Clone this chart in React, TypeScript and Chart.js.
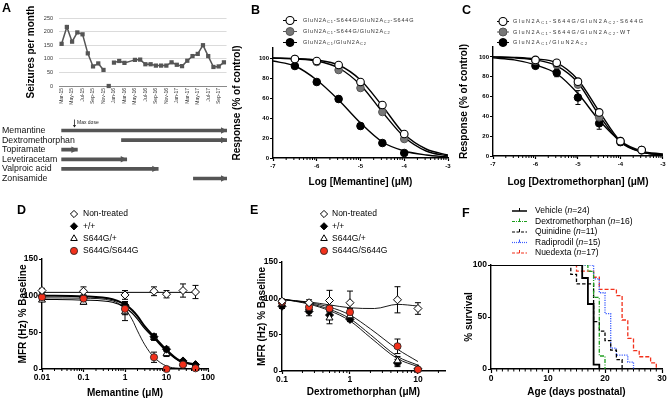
import React, { useEffect, useRef } from 'react';
import { Chart, registerables } from 'chart.js';
import { drawPoint } from 'chart.js/helpers';

Chart.register(...registerables);
const FONT = '"Liberation Sans", Arial, Helvetica, sans-serif';
Chart.defaults.font.family = FONT;
Chart.defaults.color = '#000';

// ---------------- Panel A data ----------------
const months = ['Mar-15', 'Apr-15', 'May-15', 'Jun-15', 'Jul-15', 'Aug-15', 'Sep-15', 'Oct-15', 'Nov-15', 'Dec-15',
  'Jan-16', 'Feb-16', 'Mar-16', 'Apr-16', 'May-16', 'Jun-16', 'Jul-16', 'Aug-16', 'Sep-16', 'Oct-16', 'Nov-16', 'Dec-16',
  'Jan-17', 'Feb-17', 'Mar-17', 'Apr-17', 'May-17', 'Jun-17', 'Jul-17', 'Aug-17', 'Sep-17', 'Oct-17'];
const seizures = [155, 217, 163, 197, 190, 120, 72, 83, 59, 0, 86, 92, 85, null, 96, 97, 80, 80, 75, 75, 75, 87,
  78, 73, 93, 110, 118, 150, 110, 70, 72, 87];
const seizureTicks = [0, 50, 100, 150, 200, 250];
const isolatedMonth = 'Dec-15';
const drugs = ['Memantine', 'Dextromethorphan', 'Topiramate', 'Levetiracetam', 'Valproic acid', 'Zonisamide'];
const drugStart = [0, 11.4, 0, 0, 0, 25.1];
const drugEnd = [31.5, 31.5, 3.0, 12.4, 18.4, 31.5];
const maxDoseMonth = 2.45;

// ---------------- Panel B data ----------------
const bLogConc = [-6.5, -6, -5.5, -5, -4.5, -4];
const bHomo = [99, 97, 93, 76, 53, 24];
const bHet = [99, 96, 88, 70, 46, 19];
const bWt = [92, 76, 59, 32, 15, 5];
const bWtErr = [2, 2, 3, 3, 2, 1];
const bFitX = [-7, -6.5, -6, -5.5, -5, -4.5, -4, -3.5, -3];
const bHomoFit = [100, 99.5, 98, 93, 78, 52, 24, 9, 3];
const bHetFit = [100, 99, 97, 90, 73, 46, 21, 7, 2];
const bWtFit = [97, 92, 78, 58, 35, 16, 7, 3, 1];
const logXTicks = [-7, -6, -5, -4, -3];
const respTicks = [0, 20, 40, 60, 80, 100];

// ---------------- Panel C data ----------------
const cLogConc = [-6, -5.5, -5, -4.5, -4, -3.5];
const cHomo = [97, 94, 75, 44, 15, 6];
const cHet = [96, 92, 72, 39, 15, 6];
const cWt = [91, 84, 59, 33, 14, 6];
const cHomoErr = [1, 1, 2, 2, 2, 1];
const cHetErr = [1, 1, 2, 3, 2, 1];
const cWtErr = [2, 4, 7, 6, 3, 1];
const cFitX = [-7, -6.5, -6, -5.5, -5, -4.5, -4, -3.5, -3];
const cHomoFit = [100, 99.5, 98, 94, 77, 45, 15, 4, 1];
const cHetFit = [100, 99, 97, 91, 74, 41, 14, 4, 1];
const cWtFit = [99, 97, 92, 83, 63, 36, 15, 5, 2];

// ---------------- Panel D data ----------------
const dConc = [0.01, 0.1, 1, 5, 10, 25, 50];
const dNon = [107, 106, 101, 106, 102, 107, 105];
const dNonErr = [3, 6, 6, 6, 5, 9, 9];
const dWt = [100, 98, 87, 44, 27, 11, 6];
const dWtErr = [2, 3, 5, 4, 3, 2, 1];
const dHet = [94, 91, 78, 43, 21, 7, 4];
const dHetErr = [2, 3, 12, 4, 4, 2, 1];
const dHomo = [98, 96, 82, 16, 0, 6, 1];
const dHomoErr = [2, 2, 8, 7, 1, 2, 1];
const dNonFitX = [0.01, 50];
const dNonFit = [104.5, 104.5];
const dFitX = [0.01, 0.1, 0.5, 1, 1.5, 2, 3, 5, 10, 20, 50];
const dWtFit = [100, 99, 95, 88, 80, 72, 58, 44, 26, 12, 6];
const dHetFit = [95, 94, 91, 84, 76, 68, 55, 42, 24, 11, 5];
const dHomoFit = [97, 96.5, 93, 82, 67, 52, 33, 16, 4, 1, 0.3];
const dXTicks = [0.01, 0.1, 1, 10, 100];
const mfrTicks = [0, 50, 100, 150];

// ---------------- Panel E data ----------------
const eConc = [0.1, 0.25, 0.5, 1, 5, 10];
const eNon = [96, 94, 97, 94, 98, 86];
const eNonErr = [3, 4, 14, 16, 18, 8];
const eWt = [89, 82, 77, 71, 11, 3];
const eWtErr = [3, 6, 6, 3, 5, 1];
const eHet = [95, 87, 73, 76, 14, 3];
const eHetErr = [3, 7, 8, 5, 6, 1];
const eHomo = [95, 88, 86, 81, 34, 2];
const eHomoErr = [3, 6, 4, 5, 10, 1];
const eNonFitX = [0.1, 0.25, 0.5, 1, 2.3, 5, 10];
const eNonFit = [98, 95, 91, 87, 86, 91.7, 89.4];
const eFitX = [0.1, 0.25, 0.5, 1, 2, 5, 10];
const eWtFit = [99, 92, 83, 69, 46, 17, 6];
const eHetFit = [99, 93, 85, 72, 50, 20, 8];
const eHomoFit = [99, 94, 88, 77, 58, 30, 13];
const eXTicks = [0.1, 1, 10];

// ---------------- Panel F data ----------------
const vehDays = [0, 16, 17, 18, 19];
const vehSurv = [100, 87.5, 62.5, 4.2, 0];
const dexDays = [0, 17, 18, 19, 20];
const dexSurv = [100, 93.8, 68.8, 12.5, 0];
const quiDays = [0, 14, 15, 18, 19, 20, 21, 22, 23];
const quiSurv = [100, 90.9, 81.8, 45.5, 36.4, 27.3, 18.2, 9.1, 0];
const radDays = [0, 18, 19, 20, 21, 22, 24, 25];
const radSurv = [100, 86.7, 73.3, 53.3, 20, 13.3, 6.7, 0];
const nueDays = [0, 15, 18, 19, 22, 23, 24, 25, 26, 28, 29];
const nueSurv = [100, 94.1, 88.2, 76.5, 70.6, 47.1, 29.4, 17.6, 11.8, 5.9, 0];
const ageTicks = [0, 10, 20, 30];
const survTicks = [0, 50, 100];

// ---------------- helpers ----------------
const RED = '#f2301b';
const xy = (xs: number[], ys: (number | null)[]) => xs.map((x, i) => ({ x, y: ys[i] }));

function base(W: number, H: number, area: any, padLeft = 0): any {
  return {
    responsive: false, animation: false, devicePixelRatio: 1, events: [],
    layout: { padding: { left: padLeft, top: area.top, right: W - area.right, bottom: 0 } },
    plugins: { legend: { display: false }, tooltip: { enabled: false } },
  };
}

function axX(H: number, area: any, o: any): any {
  return {
    type: o.type || 'linear', min: o.min, max: o.max,
    afterFit: (s: any) => { s.height = H - area.bottom; },
    afterBuildTicks: (s: any) => { s.ticks = o.ticks.map((v: number) => ({ value: v })); },
    grid: { drawOnChartArea: false, tickLength: o.tl ?? 3, tickColor: '#000', tickWidth: 1.2 },
    border: { color: '#000', width: 1.4 },
    ticks: { color: '#000', font: { size: o.fs, weight: 'bold' }, padding: o.tp ?? 1, maxRotation: 0, autoSkip: false, callback: (v: number) => String(v) },
    title: { display: true, text: o.title, color: '#000', font: { size: 10, weight: 'bold' }, padding: { top: 0, bottom: o.titlePad } },
  };
}
function axY(area: any, o: any): any {
  return {
    type: 'linear', min: o.min, max: o.max,
    afterFit: (s: any) => { s.width = area.left; },
    afterBuildTicks: (s: any) => { s.ticks = o.ticks.map((v: number) => ({ value: v })); },
    grid: { drawOnChartArea: false, tickLength: o.tl ?? 3, tickColor: '#000', tickWidth: 1.2 },
    border: { color: '#000', width: 1.4 },
    ticks: { color: '#000', font: { size: o.fs, weight: 'bold' }, padding: o.tp ?? 1, callback: (v: number) => String(v) },
    title: { display: true, text: o.title, color: '#000', font: { size: 10, weight: 'bold' }, padding: { top: o.titlePad, bottom: 0 } },
  };
}

function pts(xs: number[], ys: number[], o: any): any {
  return {
    data: xy(xs, ys), showLine: false, pointStyle: o.style, pointRadius: o.r ?? 4,
    pointBackgroundColor: o.fill, pointBorderColor: o.stroke ?? '#000', pointBorderWidth: o.bw ?? 1,
    clip: false, errorBars: o.err, order: o.order ?? 0,
  };
}
function fit(xs: number[], ys: number[], o: any = {}): any {
  return {
    data: xy(xs, ys), borderColor: o.color ?? '#000', borderWidth: o.w ?? 1.3, pointRadius: 0,
    cubicInterpolationMode: 'monotone', fill: false, order: o.order ?? 10,
  };
}

const errorBarPlugin = (cap = 3) => ({
  id: 'errbars',
  beforeDatasetsDraw(chart: any) {
    const ctx = chart.ctx; const ys = chart.scales.y;
    chart.data.datasets.forEach((ds: any, di: number) => {
      if (!ds.errorBars) return;
      const meta = chart.getDatasetMeta(di);
      meta.data.forEach((pt: any, i: number) => {
        const e = ds.errorBars[i]; if (!e) return;
        const v = ds.data[i].y;
        const y1 = ys.getPixelForValue(v + e), y2 = ys.getPixelForValue(v - e);
        ctx.save(); ctx.strokeStyle = '#000'; ctx.lineWidth = 1;
        ctx.beginPath();
        ctx.moveTo(pt.x, y1); ctx.lineTo(pt.x, y2);
        ctx.moveTo(pt.x - cap, y1); ctx.lineTo(pt.x + cap, y1);
        ctx.moveTo(pt.x - cap, y2); ctx.lineTo(pt.x + cap, y2);
        ctx.stroke(); ctx.restore();
      });
    });
  },
});

const minorTicksPlugin = (xs: number[], len = 2) => ({
  id: 'minorTicks',
  afterDraw(chart: any) {
    const { ctx, chartArea, scales } = chart;
    ctx.save(); ctx.strokeStyle = '#000'; ctx.lineWidth = 1;
    ctx.beginPath();
    xs.forEach((v) => {
      const p = scales.x.getPixelForValue(v);
      ctx.moveTo(p, chartArea.bottom); ctx.lineTo(p, chartArea.bottom + len);
    });
    ctx.stroke(); ctx.restore();
  },
});

type Seg = { t: string; sub?: boolean; it?: boolean };
const legendPlugin = (items: any[], cfg: any) => ({
  id: 'customLegend',
  afterDraw(chart: any) {
    const ctx = chart.ctx;
    items.forEach((it, i) => {
      const y = cfg.y + i * cfg.dy;
      ctx.save();
      if (it.line) {
        ctx.strokeStyle = it.line.color; ctx.lineWidth = it.line.width;
        ctx.setLineDash(it.line.dash || []);
        ctx.beginPath(); ctx.moveTo(cfg.x - cfg.half, y); ctx.lineTo(cfg.x + cfg.half, y); ctx.stroke();
        ctx.setLineDash([]);
        if (it.tick) { ctx.lineWidth = 1; ctx.beginPath(); ctx.moveTo(cfg.x, y - 3); ctx.lineTo(cfg.x, y); ctx.stroke(); }
      }
      if (it.style) {
        ctx.fillStyle = it.fill; ctx.strokeStyle = it.stroke ?? '#000'; ctx.lineWidth = it.bw ?? 1;
        drawPoint(ctx, { pointStyle: it.style, radius: it.r, borderWidth: it.bw ?? 1, rotation: 0 } as any, cfg.x, y);
      }
      const segs: Seg[] = typeof it.label === 'string' ? [{ t: it.label }] : it.label;
      let x = cfg.tx;
      ctx.fillStyle = cfg.color || '#000'; ctx.textBaseline = 'middle'; ctx.textAlign = 'left';
      segs.forEach((s) => {
        const fs = s.sub ? cfg.fs * 0.72 : cfg.fs;
        ctx.font = `${s.it ? 'italic ' : ''}${fs}px ${FONT}`;
        const yy = s.sub ? y + cfg.fs * 0.3 : y;
        if (cfg.ls) {
          for (const ch of s.t) { ctx.fillText(ch, x, yy); x += ctx.measureText(ch).width + cfg.ls; }
        } else {
          ctx.fillText(s.t, x, yy); x += ctx.measureText(s.t).width;
        }
      });
      ctx.restore();
    });
  },
});

function logMinors(decades: number[], max: number) {
  const out: number[] = [];
  decades.forEach((d) => { for (let k = 2; k <= 9; k++) if (k * d <= max) out.push(k * d); });
  return out;
}
function linLogMinors(starts: number[]) {
  const out: number[] = [];
  starts.forEach((d) => { for (let k = 2; k <= 9; k++) out.push(d + Math.log10(k)); });
  return out;
}

// ---------------- Charts ----------------
function chartA(cv: HTMLCanvasElement) {
  const W = 232, H = 120, area = { left: 59, right: 227, top: 18, bottom: 86 };
  const iso = months.indexOf(isolatedMonth);
  return new Chart(cv, {
    type: 'line',
    data: {
      labels: months,
      datasets: [{
        data: seizures, borderColor: '#555', backgroundColor: '#555', borderWidth: 1.5,
        pointStyle: 'rect', pointRadius: 3, pointBorderWidth: 0, pointBackgroundColor: '#555',
        spanGaps: true, clip: false as any,
        segment: { borderColor: (c: any) => (c.p0DataIndex === iso || c.p1DataIndex === iso) ? 'rgba(0,0,0,0)' : undefined },
      } as any],
    },
    options: {
      ...base(W, H, area),
      scales: {
        x: {
          type: 'category', offset: true,
          afterFit: (s: any) => { s.height = H - area.bottom; },
          grid: { display: false, drawTicks: false }, border: { display: true, color: '#8a8a8a', width: 1 },
          ticks: { autoSkip: false, minRotation: 90, maxRotation: 90, padding: 2, font: { size: 5 }, color: '#333',
            callback: (_v: any, i: number) => (i % 2 === 0 ? months[i] : '') },
        },
        y: {
          min: 0, max: 250,
          afterBuildTicks: (s: any) => { s.ticks = seizureTicks.map((v) => ({ value: v })); },
          afterFit: (s: any) => { s.width = area.left; },
          grid: { color: '#d2d2d2', drawTicks: false, lineWidth: 0.8 }, border: { display: false },
          ticks: { padding: 6, font: { size: 5.5 }, color: '#333' },
          title: { display: true, text: 'Seizures per month', color: '#000', font: { size: 10, weight: 'bold' }, padding: { top: 25.7, bottom: 0 } },
        },
      },
    } as any,
  });
}

function chartT(cv: HTMLCanvasElement) {
  const W = 232, H = 72, area = { left: 59, right: 227, top: 7.7, bottom: 65.3 };
  const arrows = {
    id: 'arrows',
    afterDatasetsDraw(chart: any) {
      const ctx = chart.ctx; const meta = chart.getDatasetMeta(0);
      ctx.save(); ctx.fillStyle = '#555';
      meta.data.forEach((b: any) => {
        const tip = b.x, y = b.y;
        ctx.beginPath(); ctx.moveTo(tip, y); ctx.lineTo(tip - 6, y - 3.2); ctx.lineTo(tip - 6, y + 3.2); ctx.closePath(); ctx.fill();
      });
      // row labels, left-aligned at the panel edge
      ctx.fillStyle = '#111'; ctx.font = `8.8px ${FONT}`; ctx.textBaseline = 'middle'; ctx.textAlign = 'left';
      chart.data.labels.forEach((lab: string, i: number) => { ctx.fillText(lab, 2, meta.data[i].y); });
      const b0 = meta.data[0];
      const x = chart.scales.x.getPixelForValue(maxDoseMonth);
      ctx.strokeStyle = '#222'; ctx.fillStyle = '#222'; ctx.lineWidth = 0.8;
      ctx.beginPath(); ctx.moveTo(x, b0.y - 11); ctx.lineTo(x, b0.y - 4); ctx.stroke();
      ctx.beginPath(); ctx.moveTo(x, b0.y - 3); ctx.lineTo(x - 1.6, b0.y - 5.5); ctx.lineTo(x + 1.6, b0.y - 5.5); ctx.closePath(); ctx.fill();
      ctx.font = `5px ${FONT}`;
      ctx.fillText('Max dose', x + 2.5, b0.y - 8);
      ctx.restore();
    },
  };
  return new Chart(cv, {
    type: 'bar',
    data: { labels: drugs, datasets: [{ data: drugs.map((_d, i) => [drugStart[i], drugEnd[i]]), backgroundColor: '#555', barThickness: 3 } as any] },
    options: {
      ...base(W, H, area, 0),
      layout: { padding: { left: 0, top: area.top, right: W - area.right, bottom: H - area.bottom } },
      indexAxis: 'y',
      scales: {
        x: { type: 'linear', min: -0.5, max: 31.5, display: false },
        y: {
          type: 'category', afterFit: (s: any) => { s.width = area.left; },
          grid: { display: false, drawTicks: false }, border: { display: false },
          ticks: { display: false },
        },
      },
    } as any,
    plugins: [arrows],
  });
}

function glu(a: string, b: string): Seg[] {
  return [{ t: 'GluN2A' }, { t: 'C1', sub: true }, { t: a + '/GluN2A' }, { t: 'C2', sub: true }, { t: b }];
}

function chartB(cv: HTMLCanvasElement) {
  const W = 230, H = 200, area = { left: 48, right: 223, top: 48, bottom: 158 };
  return new Chart(cv, {
    type: 'line',
    data: {
      datasets: [
        pts(bLogConc, bHomo, { style: 'circle', r: 3.8, fill: '#fff', stroke: '#000', bw: 1.1, order: 0 }),
        pts(bLogConc, bHet, { style: 'circle', r: 3.8, fill: '#777', stroke: '#555', bw: 1, order: 1 }),
        pts(bLogConc, bWt, { style: 'circle', r: 3.8, fill: '#000', stroke: '#000', err: bWtErr, order: 2 }),
        fit(bFitX, bHomoFit, { w: 1.4 }), fit(bFitX, bHetFit, { w: 1.4 }), fit(bFitX, bWtFit, { w: 1.4 }),
      ],
    },
    options: {
      ...base(W, H, area),
      scales: {
        x: axX(H, area, { min: -7, max: -3, ticks: logXTicks, fs: 6, tp: 2, title: 'Log [Memantine] (μM)', titlePad: 12 }),
        y: axY(area, { min: 0, max: 110, ticks: respTicks, fs: 6, title: 'Response (% of control)', titlePad: 6 }),
      },
    } as any,
    plugins: [errorBarPlugin(2), minorTicksPlugin(linLogMinors([-7, -6, -5, -4]), 2),
      legendPlugin([
        { label: glu('-S644G', '-S644G'), line: { color: '#000', width: 1 }, style: 'circle', r: 4, fill: '#fff', stroke: '#000', bw: 1.1 },
        { label: glu('-S644G', ''), line: { color: '#555', width: 1 }, style: 'circle', r: 4, fill: '#777', stroke: '#555' },
        { label: glu('', ''), line: { color: '#000', width: 1 }, style: 'circle', r: 4, fill: '#000', stroke: '#000' },
      ], { x: 65, y: 20.5, dy: 11, half: 7, tx: 78, fs: 5.5, ls: 0.8, color: '#333' })],
  });
}

function chartC(cv: HTMLCanvasElement) {
  const W = 223, H = 200, area = { left: 48, right: 218, top: 47, bottom: 156 };
  return new Chart(cv, {
    type: 'line',
    data: {
      datasets: [
        pts(cLogConc, cHomo, { style: 'circle', r: 3.8, fill: '#fff', stroke: '#000', bw: 1.1, err: cHomoErr, order: 0 }),
        pts(cLogConc, cHet, { style: 'circle', r: 3.8, fill: '#777', stroke: '#555', err: cHetErr, order: 1 }),
        pts(cLogConc, cWt, { style: 'circle', r: 3.8, fill: '#000', stroke: '#000', err: cWtErr, order: 2 }),
        fit(cFitX, cHomoFit, { w: 1.4 }), fit(cFitX, cHetFit, { w: 1.4 }), fit(cFitX, cWtFit, { w: 1.4 }),
      ],
    },
    options: {
      ...base(W, H, area),
      scales: {
        x: axX(H, area, { min: -7, max: -3, ticks: logXTicks, fs: 6, tp: 2, title: 'Log [Dextromethorphan] (μM)', titlePad: 11.4 }),
        y: axY(area, { min: 0, max: 110, ticks: respTicks, fs: 6, title: 'Response (% of control)', titlePad: 13 }),
      },
    } as any,
    plugins: [errorBarPlugin(2.5), minorTicksPlugin(linLogMinors([-7, -6, -5, -4]), 2),
      legendPlugin([
        { label: glu('-S644G', '-S644G'), line: { color: '#000', width: 1 }, style: 'circle', r: 4, fill: '#fff', stroke: '#000', bw: 1.1 },
        { label: glu('-S644G', '-WT'), line: { color: '#555', width: 1 }, style: 'circle', r: 4, fill: '#777', stroke: '#555' },
        { label: glu('', ''), line: { color: '#000', width: 1 }, style: 'circle', r: 4, fill: '#000', stroke: '#000' },
      ], { x: 58, y: 21.5, dy: 10.5, half: 6, tx: 68, fs: 5.5, ls: 1.5, color: '#333' })],
  });
}

const mfrLegend = [
  { label: 'Non-treated', style: 'rectRot', r: 3.6, fill: '#fff', stroke: '#000' },
  { label: '+/+', style: 'rectRot', r: 3.6, fill: '#000', stroke: '#000' },
  { label: 'S644G/+', style: 'triangle', r: 3.8, fill: '#fff', stroke: '#000' },
  { label: 'S644G/S644G', style: 'circle', r: 3.6, fill: RED, stroke: '#222', bw: 0.8 },
];

function chartD(cv: HTMLCanvasElement) {
  const W = 225, H = 200, area = { left: 42, right: 208, top: 59, bottom: 169 };
  return new Chart(cv, {
    type: 'line',
    data: {
      datasets: [
        pts(dConc, dNon, { style: 'rectRot', r: 4, fill: '#fff', err: dNonErr, order: 0 }),
        pts(dConc, dHomo, { style: 'circle', r: 3.6, fill: RED, stroke: '#222', bw: 0.8, err: dHomoErr, order: 1 }),
        pts(dConc, dWt, { style: 'rectRot', r: 4, fill: '#000', err: dWtErr, order: 2 }),
        pts(dConc, dHet, { style: 'triangle', r: 4, fill: '#fff', err: dHetErr, order: 3 }),
        fit(dNonFitX, dNonFit, { w: 1 }),
        fit(dFitX, dWtFit, { w: 2 }), fit(dFitX, dHetFit, { w: 1.2 }), fit(dFitX, dHomoFit, { w: 0.9 }),
      ],
    },
    options: {
      ...base(W, H, area),
      scales: {
        x: axX(H, area, { type: 'logarithmic', min: 0.01, max: 100, ticks: dXTicks, fs: 8.5, tp: 1, title: 'Memantine (μM)', titlePad: 1 }),
        y: axY(area, { min: 0, max: 150, ticks: mfrTicks, fs: 8.5, title: 'MFR (Hz) % Baseline', titlePad: 17 }),
      },
    } as any,
    plugins: [errorBarPlugin(3), minorTicksPlugin(logMinors([0.01, 0.1, 1, 10], 100), 2),
      legendPlugin(mfrLegend, { x: 74, y: 14, dy: 12.3, half: 0, tx: 83, fs: 8.5 })],
  });
}

function chartE(cv: HTMLCanvasElement) {
  const W = 225, H = 200, area = { left: 57, right: 222, top: 62, bottom: 171 };
  return new Chart(cv, {
    type: 'line',
    data: {
      datasets: [
        pts(eConc, eNon, { style: 'rectRot', r: 4, fill: '#fff', err: eNonErr, order: 0 }),
        pts(eConc, eHomo, { style: 'circle', r: 3.6, fill: RED, stroke: '#222', bw: 0.8, err: eHomoErr, order: 1 }),
        pts(eConc, eHet, { style: 'triangle', r: 4, fill: '#fff', err: eHetErr, order: 2 }),
        pts(eConc, eWt, { style: 'rectRot', r: 4, fill: '#000', err: eWtErr, order: 3 }),
        fit(eNonFitX, eNonFit, { w: 0.9 }),
        fit(eFitX, eWtFit, { w: 0.9 }), fit(eFitX, eHetFit, { w: 0.9 }), fit(eFitX, eHomoFit, { w: 0.9 }),
      ],
    },
    options: {
      ...base(W, H, area),
      scales: {
        x: axX(H, area, { type: 'logarithmic', min: 0.1, max: 25, ticks: eXTicks, fs: 8.5, tp: 1, title: 'Dextromethorphan (μM)', titlePad: 2 }),
        y: axY(area, { min: 0, max: 150, ticks: mfrTicks, fs: 8.5, title: 'MFR (Hz) % Baseline', titlePad: 31 }),
      },
    } as any,
    plugins: [errorBarPlugin(3), minorTicksPlugin(logMinors([0.1, 1, 10], 25), 2),
      legendPlugin(mfrLegend, { x: 99, y: 14, dy: 12.3, half: 0, tx: 107, fs: 8.5 })],
  });
}

function km(days: number[], surv: number[], o: any): any {
  return {
    data: xy(days, surv), stepped: 'before', borderColor: o.color, borderWidth: o.w ?? 1.3,
    borderDash: o.dash ?? [], pointRadius: 0, fill: false, order: o.order ?? 0,
  };
}

function chartF(cv: HTMLCanvasElement) {
  const W = 223, H = 200, area = { left: 46, right: 217, top: 65, bottom: 169 };
  const GREEN = '#1f9e1f', BLUE = '#3a5cff';
  const days: number[] = [];
  for (let d = 1; d < 30; d++) if (d % 10 !== 0) days.push(d);
  return new Chart(cv, {
    type: 'line',
    data: {
      datasets: [
        km(vehDays, vehSurv, { color: '#000', w: 1.8, order: 0 }),
        km(dexDays, dexSurv, { color: GREEN, dash: [4, 1.5, 1, 1.5], order: 1 }),
        km(quiDays, quiSurv, { color: '#000', dash: [3.5, 2], order: 2 }),
        km(radDays, radSurv, { color: BLUE, dash: [1.2, 1.2], order: 3 }),
        km(nueDays, nueSurv, { color: RED, dash: [4, 2], order: 4 }),
      ],
    },
    options: {
      ...base(W, H, area),
      scales: {
        x: axX(H, area, { min: 0, max: 30, ticks: ageTicks, fs: 8.5, tl: 4, tp: 1, title: 'Age (days postnatal)', titlePad: 2 }),
        y: axY(area, { min: 0, max: 100, ticks: survTicks, fs: 8.5, title: '% survival', titlePad: 18 }),
      },
    } as any,
    plugins: [minorTicksPlugin(days, 2.5),
      legendPlugin([
        { label: [{ t: 'Vehicle (' }, { t: 'n', it: true }, { t: '=24)' }], line: { color: '#000', width: 1.5 }, tick: true },
        { label: [{ t: 'Dextromethorphan (' }, { t: 'n', it: true }, { t: '=16)' }], line: { color: GREEN, width: 1.2, dash: [3, 1, 1, 1] }, tick: true },
        { label: [{ t: 'Quinidine (' }, { t: 'n', it: true }, { t: '=11)' }], line: { color: '#000', width: 1.2, dash: [3, 1.5] }, tick: true },
        { label: [{ t: 'Radiprodil (' }, { t: 'n', it: true }, { t: '=15)' }], line: { color: BLUE, width: 1.2, dash: [1, 1] }, tick: true },
        { label: [{ t: 'Nuedexta (' }, { t: 'n', it: true }, { t: '=17)' }], line: { color: RED, width: 1.2, dash: [3, 1.5] }, tick: true },
      ], { x: 74.5, y: 11, dy: 10.5, half: 7.5, tx: 90, fs: 8.5 })],
  });
}

const PANELS = [
  { x: 0, y: 0, w: 232, h: 120, make: chartA },
  { x: 0, y: 118, w: 232, h: 72, make: chartT },
  { x: 225, y: 0, w: 230, h: 200, make: chartB },
  { x: 445, y: 0, w: 223, h: 200, make: chartC },
  { x: 0, y: 200, w: 225, h: 200, make: chartD },
  { x: 225, y: 200, w: 225, h: 200, make: chartE },
  { x: 445, y: 200, w: 223, h: 200, make: chartF },
];
const LETTERS = [
  { t: 'A', x: 2, y: 1.5 }, { t: 'B', x: 251, y: 3.5 }, { t: 'C', x: 462, y: 3.5 },
  { t: 'D', x: 17, y: 203.5 }, { t: 'E', x: 250, y: 203.5 }, { t: 'F', x: 462, y: 206.5 },
];

export default function App() {
  const refs = useRef<(HTMLCanvasElement | null)[]>([]);
  useEffect(() => {
    const charts = PANELS.map((p, i) => p.make(refs.current[i] as HTMLCanvasElement));
    return () => charts.forEach((c) => c.destroy());
  }, []);
  return (
    <div style={{ position: 'fixed', left: 0, top: 0, width: 668, height: 400, background: '#fff', overflow: 'hidden' }}>
      {PANELS.map((p, i) => (
        <canvas key={i} ref={(el) => { refs.current[i] = el; }} width={p.w} height={p.h}
          style={{ position: 'absolute', left: p.x, top: p.y, width: p.w, height: p.h }} />
      ))}
      {LETTERS.map((l) => (
        <div key={l.t} style={{ position: 'absolute', left: l.x, top: l.y, font: `bold 12.5px ${FONT}`, lineHeight: '12px', color: '#000' }}>{l.t}</div>
      ))}
    </div>
  );
}
